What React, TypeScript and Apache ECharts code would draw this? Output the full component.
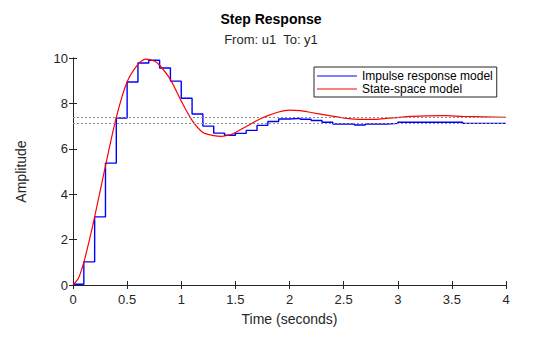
import React, { useEffect, useRef } from "react";
import * as echarts from "echarts";

// Impulse response model: zero-order-hold samples every 0.1 s
const SAMPLE_TIME = 0.1;
const impulseValues = [
  0.03, 1.02, 3.0, 5.37, 7.36, 8.94, 9.78, 9.9, 9.56, 8.98,
  8.23, 7.53, 7.0, 6.69, 6.6, 6.68, 6.81, 7.03, 7.2, 7.31,
  7.34, 7.3, 7.25, 7.17, 7.09, 7.09, 7.05, 7.09, 7.09, 7.12,
  7.17, 7.17, 7.17, 7.17, 7.17, 7.17, 7.12, 7.12, 7.12, 7.12,
  7.12,
];

// State-space model: continuous response
const stateTimes = [
  0, 0.05, 0.1, 0.15, 0.2, 0.3, 0.4, 0.5, 0.6, 0.67, 0.75, 0.8, 0.9, 1.0,
  1.1, 1.2, 1.3, 1.37, 1.45, 1.5, 1.6, 1.7, 1.8, 1.9, 2.0, 2.1, 2.2, 2.37,
  2.53, 2.65, 2.8, 2.9, 3.06, 3.2, 3.43, 3.6, 3.8, 4.0,
];
const stateValues = [
  0, 0.3, 1.0, 1.95, 3.0, 5.25, 7.38, 8.95, 9.72, 9.95, 9.87, 9.68, 9.05, 8.1,
  7.25, 6.72, 6.58, 6.55, 6.62, 6.72, 6.98, 7.25, 7.46, 7.62, 7.7, 7.68, 7.6, 7.46,
  7.34, 7.3, 7.3, 7.34, 7.41, 7.44, 7.46, 7.43, 7.41, 7.39,
];

// Steady-state reference lines
const steadyStates = [7.39, 7.13];

const xTicks = { min: 0, max: 4, interval: 0.5 };
const yTicks = { min: 0, max: 10, interval: 2 };

const FONT = "'Liberation Sans', Arial, Helvetica, sans-serif";
const DARK = "#262626";

export default function App() {
  const ref = useRef<HTMLDivElement>(null);
  useEffect(() => {
    if (!ref.current) return;
    const chart = echarts.init(ref.current, undefined, { renderer: "svg" });
    const impulseData = impulseValues.map((v, i) => [
      +(i * SAMPLE_TIME).toFixed(2),
      v,
    ]);
    const stateData = stateTimes.map((t, i) => [t, stateValues[i]]);

    const axisCommon = {
      type: "value" as const,
      axisLine: { show: true, lineStyle: { color: DARK, width: 1 } },
      axisTick: { show: true, inside: true, length: 4, lineStyle: { color: DARK } },
      splitLine: { show: false },
    };

    chart.setOption({
      animation: false,
      backgroundColor: "#ffffff",
      textStyle: { fontFamily: FONT },
      title: [
        {
          text: "Step Response",
          left: 271,
          top: 12,
          textAlign: "center",
          padding: 0,
          textStyle: { fontSize: 14, fontWeight: "bold", color: "#000", fontFamily: FONT },
        },
        {
          text: "From: u1  To: y1",
          left: 271,
          top: 33,
          textAlign: "center",
          padding: 0,
          textStyle: { fontSize: 13, fontWeight: "normal", color: DARK, fontFamily: FONT },
        },
      ],
      legend: {
        orient: "vertical",
        left: 314,
        top: 67,
        padding: [3, 4, 2, 3],
        itemGap: 1,
        itemWidth: 40,
        itemHeight: 1.2,
        icon: "rect",
        backgroundColor: "#ffffff",
        borderColor: DARK,
        borderWidth: 1,
        textStyle: { fontSize: 12, color: "#000", fontFamily: FONT },
        data: ["Impulse response model", "State-space model"],
      },
      grid: { left: 73, right: 54, top: 58, bottom: 52, containLabel: false },
      xAxis: [
        {
          ...axisCommon,
          ...xTicks,
          position: "bottom",
          name: "Time (seconds)",
          nameLocation: "middle",
          nameGap: 27,
          nameTextStyle: { fontSize: 14, color: DARK, fontFamily: FONT },
          axisLabel: {
            fontSize: 13,
            color: DARK,
            margin: 8,
            fontFamily: FONT,
            formatter: (v: number) => String(v),
          },
        },
        {
          ...axisCommon,
          ...xTicks,
          position: "top",
          axisLabel: { show: false },
        },
      ],
      yAxis: [
        {
          ...axisCommon,
          ...yTicks,
          position: "left",
          name: "Amplitude",
          nameLocation: "middle",
          nameGap: 45,
          nameTextStyle: { fontSize: 14, color: DARK, fontFamily: FONT },
          axisLabel: { fontSize: 13, color: DARK, margin: 5, fontFamily: FONT },
        },
        {
          ...axisCommon,
          ...yTicks,
          position: "right",
          axisLabel: { show: false },
        },
      ],
      series: [
        {
          name: "Impulse response model",
          type: "line",
          step: "end",
          data: impulseData,
          symbol: "none",
          color: "#0000ff",
          lineStyle: { color: "#0000ff", width: 1.4 },
          markLine: {
            silent: true,
            symbol: "none",
            label: { show: false },
            lineStyle: { color: "#8c8c8c", type: [2, 2], width: 1 },
            data: steadyStates.map((v) => ({ yAxis: v })),
          },
          z: 2,
        },
        {
          name: "State-space model",
          type: "line",
          data: stateData,
          smooth: 0.25,
          symbol: "none",
          color: "#ff0000",
          lineStyle: { color: "#ff0000", width: 1.2 },
          z: 3,
        },
      ],
    });
    return () => chart.dispose();
  }, []);
  return (
    <div
      ref={ref}
      style={{ position: "fixed", left: 0, top: 0, width: 560, height: 337, background: "#fff" }}
    />
  );
}
